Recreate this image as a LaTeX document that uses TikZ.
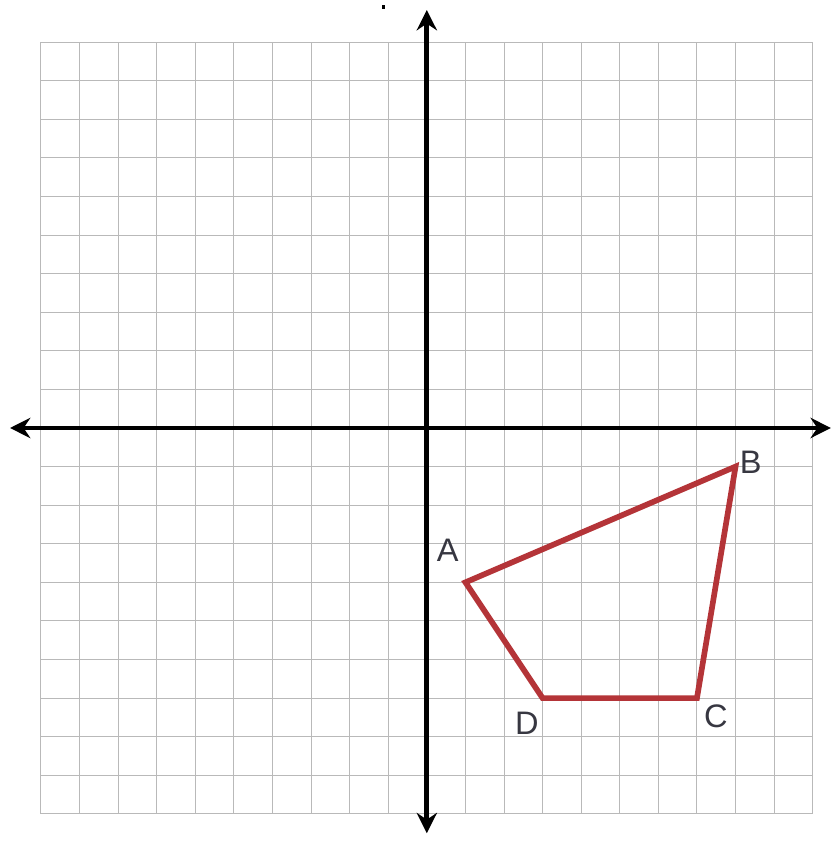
\documentclass[tikz,border=0pt]{standalone}
\usepackage{fontspec}
\setmainfont{Liberation Sans}
\usepackage{xcolor}
\usetikzlibrary{arrows.meta}
\definecolor{quadred}{RGB}{180,52,56}
\definecolor{labelgray}{RGB}{55,55,65}
\tikzset{
  axis/.style={line width=3.5pt, {Stealth[length=15pt,width=15pt,inset=5pt]}-{Stealth[length=15pt,width=15pt,inset=5pt]}},
  gridline/.style={gray!55, line width=0.7pt},
  edge/.style={quadred, line width=4.2pt, line join=miter},
  vlabel/.style={font=\fontsize{24}{26}\selectfont, text=labelgray, inner sep=0pt}
}
\begin{document}
\begin{tikzpicture}
\useasboundingbox (-11.06,-10.78) rectangle (10.49,11.09);
% Grid
\draw[gridline] (-10,-10) grid (10,10);

% Axes
\coordinate (xl) at (-10.8,0);
\coordinate (xr) at (10.47,0);
\coordinate (yt) at (0,10.83);
\coordinate (yb) at (0,-10.5);
\draw[axis] (xl) -- (xr);
\draw[axis] (yt) -- (yb);
\fill (-1.15,10.95) rectangle (-1.09,10.85);

% Vertices
\coordinate (A) at (1,-4);
\coordinate (B) at (8,-1);
\coordinate (C) at (7,-7);
\coordinate (D) at (3,-7);

% Quadrilateral
\draw[edge] (A) -- (B) -- (C) -- (D) -- cycle;

% Labels
\node[vlabel] (lA) at (0.54,-3.16) {A};
\node[vlabel] (lB) at (8.39,-0.88) {B};
\node[vlabel] (lC) at (7.49,-7.46) {C};
\node[vlabel] (lD) at (2.59,-7.64) {D};
\end{tikzpicture}
\end{document}
